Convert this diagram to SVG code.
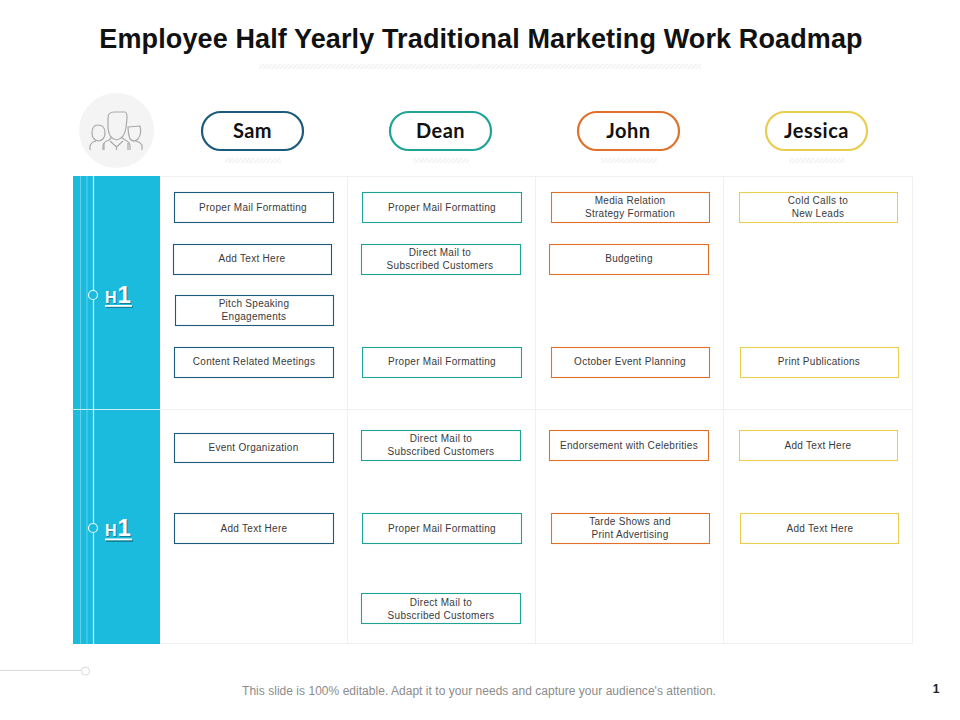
<svg xmlns="http://www.w3.org/2000/svg" width="960" height="720" viewBox="0 0 960 720">
<defs>
<pattern id="hatch" width="3" height="3" patternUnits="userSpaceOnUse" patternTransform="rotate(45)"><rect width="3" height="3" fill="#fff"/><rect width="1.400" height="3" fill="#f0f0f0"/></pattern>
</defs>
<style>
text{font-family:"Liberation Sans",Arial,sans-serif}
.t{font-size:10px;fill:#3a3a3a;text-anchor:middle;letter-spacing:.28px}
.b{fill:#fff;stroke-width:1.100}
.s .b{stroke:#1c5a7c}.d .b{stroke:#1fa396}.o .b{stroke:#e0702a}.y .b{stroke:#e9cd50}
.p{fill:#fff;stroke-width:2.200}
.n{font-size:20px;font-weight:700;fill:#111;text-anchor:middle;font-family:Lato,"Liberation Sans",sans-serif;letter-spacing:.5px}
.g{stroke:#f0f0f0;fill:none;stroke-width:1}
.h{fill:url(#hatch)}
.ic{fill:none;stroke:#a9a9a9;stroke-width:1.200;stroke-linejoin:round}
.h1{font-family:"Liberation Sans",sans-serif;font-weight:700;fill:#fff;text-anchor:start}
.sh{fill:#0f7f9a}
</style>
<rect width="960" height="720" fill="#fff"/>
<text x="481" y="48" text-anchor="middle" style="font-size:27px;font-weight:700;fill:#111;letter-spacing:.12px">Employee Half Yearly Traditional Marketing Work Roadmap</text>
<rect class="h" x="259" y="64" width="442" height="5"/>
<g id="people-icon">
<circle cx="116.500" cy="130.500" r="37.500" fill="#f4f4f4"/>
<path class="ic" d="M108 118 Q108 112 114 112 L125 112 Q127 112 127 118 L126 128 Q124 139 116.500 140 Q109 139 108 128 Z"/>
<path class="ic" d="M103 150 V146 Q103 142 109 140 L112 137 M130 150 V146 Q130 142 125 140 L121 137 M110 141 L116.500 147 L123 141 M116.500 147 V150"/>
<path class="ic" d="M92 133 Q92 125 98 125 Q105 125 105 133 Q105 140 98.500 141 Q92 140 92 133 Z M90 150 V146 Q91 142 96 141 M104 150 V143"/>
<path class="ic" d="M128 127 L140 126 Q142 134 138 139 Q134 143 130 139 Q128 134 128 127 Z M142 150 V145 Q140 142 136 141 M128 150 V143"/>
</g>
<g id="grid">
<path class="g" d="M160 176.500H912.500V643.500H160M160 409.500H912.500M347.500 176V644M535.500 176V644M723.500 176V644"/>
</g>
<g id="band-h1">
<rect x="73" y="176" width="87" height="468" fill="#1bbbdd"/>
<path d="M80.500 176V644M87 176V644" stroke="#5fd0e8" stroke-width="1" fill="none"/>
<path d="M93.500 176V644" stroke="#d8f4fa" stroke-width="1.200" fill="none"/>
<path d="M73 409.500H160" stroke="#c5eef7" stroke-width="1.200" fill="none"/>
</g>
<g id="marker-1">
<circle cx="93" cy="295" r="4.500" fill="#1bbbdd" stroke="#e8fafd" stroke-width="1.200"/>
<rect x="106" y="306" width="27" height="2" class="sh"/>
<text class="h1 sh" x="106" y="304" style="font-size:16px;fill:#0f7f9a">H<tspan style="font-size:24px" dx="1">1</tspan></text>
<text class="h1" x="105" y="303" style="font-size:16px">H<tspan style="font-size:24px" dx="1">1</tspan></text>
<rect x="105" y="305" width="27" height="1.800" fill="#fff"/>
</g>
<g id="marker-2">
<circle cx="93" cy="528" r="4.500" fill="#1bbbdd" stroke="#e8fafd" stroke-width="1.200"/>
<rect x="106" y="540" width="27" height="2" class="sh"/>
<text class="h1 sh" x="106" y="537" style="font-size:16px;fill:#0f7f9a">H<tspan style="font-size:24px" dx="1">1</tspan></text>
<text class="h1" x="105" y="536" style="font-size:16px">H<tspan style="font-size:24px" dx="1">1</tspan></text>
<rect x="105" y="538.500" width="27" height="1.800" fill="#fff"/>
</g>
<g id="head-sam" class="s"><rect class="p" x="202" y="112" width="101" height="38" rx="19" style="stroke:#1c5a7c"/><text class="n" x="252.500" y="138">Sam</text><rect class="h" x="225" y="158" width="56" height="5"/></g>
<g id="head-dean" class="d"><rect class="p" x="390" y="112" width="101" height="38" rx="19" style="stroke:#1fa396"/><text class="n" x="440.500" y="138">Dean</text><rect class="h" x="413" y="158" width="56" height="5"/></g>
<g id="head-john" class="o"><rect class="p" x="578" y="112" width="101" height="38" rx="19" style="stroke:#e0702a"/><text class="n" x="628.500" y="138">John</text><rect class="h" x="601" y="158" width="56" height="5"/></g>
<g id="head-jessica" class="y"><rect class="p" x="766" y="112" width="101" height="38" rx="19" style="stroke:#e9cd50"/><text class="n" x="816.500" y="138">Jessica</text><rect class="h" x="789" y="158" width="56" height="5"/></g>

<g id="s1" class="s"><rect class="b" x="174.500" y="192.500" width="159" height="30"/><text class="t" x="253" y="211">Proper Mail Formatting</text></g>
<g id="s2" class="s"><rect class="b" x="173.500" y="244.500" width="158" height="30"/><text class="t" x="252" y="262">Add Text Here</text></g>
<g id="s3" class="s"><rect class="b" x="175.500" y="295.500" width="158" height="30"/><text class="t" x="254" y="307">Pitch Speaking</text><text class="t" x="254" y="320">Engagements</text></g>
<g id="s4" class="s"><rect class="b" x="174.500" y="347.500" width="159" height="30"/><text class="t" x="254" y="365">Content Related Meetings</text></g>
<g id="s5" class="s"><rect class="b" x="174.500" y="433.500" width="159" height="29"/><text class="t" x="253.500" y="451">Event Organization</text></g>
<g id="s6" class="s"><rect class="b" x="174.500" y="513.500" width="159" height="30"/><text class="t" x="254" y="532">Add Text Here</text></g>

<g id="d1" class="d"><rect class="b" x="362.500" y="192.500" width="159" height="30"/><text class="t" x="442" y="211">Proper Mail Formatting</text></g>
<g id="d2" class="d"><rect class="b" x="361.500" y="244.500" width="159" height="30"/><text class="t" x="440" y="256">Direct Mail to</text><text class="t" x="440" y="269">Subscribed Customers</text></g>
<g id="d3" class="d"><rect class="b" x="362.500" y="347.500" width="159" height="30"/><text class="t" x="442" y="365">Proper Mail Formatting</text></g>
<g id="d4" class="d"><rect class="b" x="361.500" y="430.500" width="159" height="30"/><text class="t" x="441" y="442">Direct Mail to</text><text class="t" x="441" y="455">Subscribed Customers</text></g>
<g id="d5" class="d"><rect class="b" x="362.500" y="513.500" width="159" height="30"/><text class="t" x="442" y="532">Proper Mail Formatting</text></g>
<g id="d6" class="d"><rect class="b" x="361.500" y="593.500" width="159" height="30"/><text class="t" x="441" y="606">Direct Mail to</text><text class="t" x="441" y="619">Subscribed Customers</text></g>

<g id="j1" class="o"><rect class="b" x="551.500" y="192.500" width="158" height="30"/><text class="t" x="630" y="204">Media Relation</text><text class="t" x="630" y="217">Strategy Formation</text></g>
<g id="j2" class="o"><rect class="b" x="549.500" y="244.500" width="159" height="30"/><text class="t" x="629" y="262">Budgeting</text></g>
<g id="j3" class="o"><rect class="b" x="551.500" y="347.500" width="158" height="30"/><text class="t" x="630" y="365">October Event Planning</text></g>
<g id="j4" class="o"><rect class="b" x="549.500" y="430.500" width="159" height="30"/><text class="t" x="629" y="449">Endorsement with Celebrities</text></g>
<g id="j5" class="o"><rect class="b" x="551.500" y="513.500" width="158" height="30"/><text class="t" x="630" y="525">Tarde Shows and</text><text class="t" x="630" y="538">Print Advertising</text></g>

<g id="y1" class="y"><rect class="b" x="739.500" y="192.500" width="158" height="30"/><text class="t" x="818" y="204">Cold Calls to</text><text class="t" x="818" y="217">New Leads</text></g>
<g id="y2" class="y"><rect class="b" x="740.500" y="347.500" width="158" height="30"/><text class="t" x="819" y="365">Print Publications</text></g>
<g id="y3" class="y"><rect class="b" x="739.500" y="430.500" width="158" height="30"/><text class="t" x="818" y="449">Add Text Here</text></g>
<g id="y4" class="y"><rect class="b" x="740.500" y="513.500" width="158" height="30"/><text class="t" x="820" y="532">Add Text Here</text></g>

<g id="connectors"><path d="M0 670.500H81" stroke="#d9d9d9" stroke-width="1" fill="none"/></g>
<circle cx="85.500" cy="671" r="4" fill="#fff" stroke="#d9d9d9" stroke-width="1"/>
<text x="479" y="695" text-anchor="middle" style="font-size:12px;fill:#8c8c8c;letter-spacing:.03px">This slide is 100% editable. Adapt it to your needs and capture your audience's attention.</text>
<text x="936" y="693" text-anchor="middle" style="font-size:12px;font-weight:700;fill:#222">1</text>
</svg>
